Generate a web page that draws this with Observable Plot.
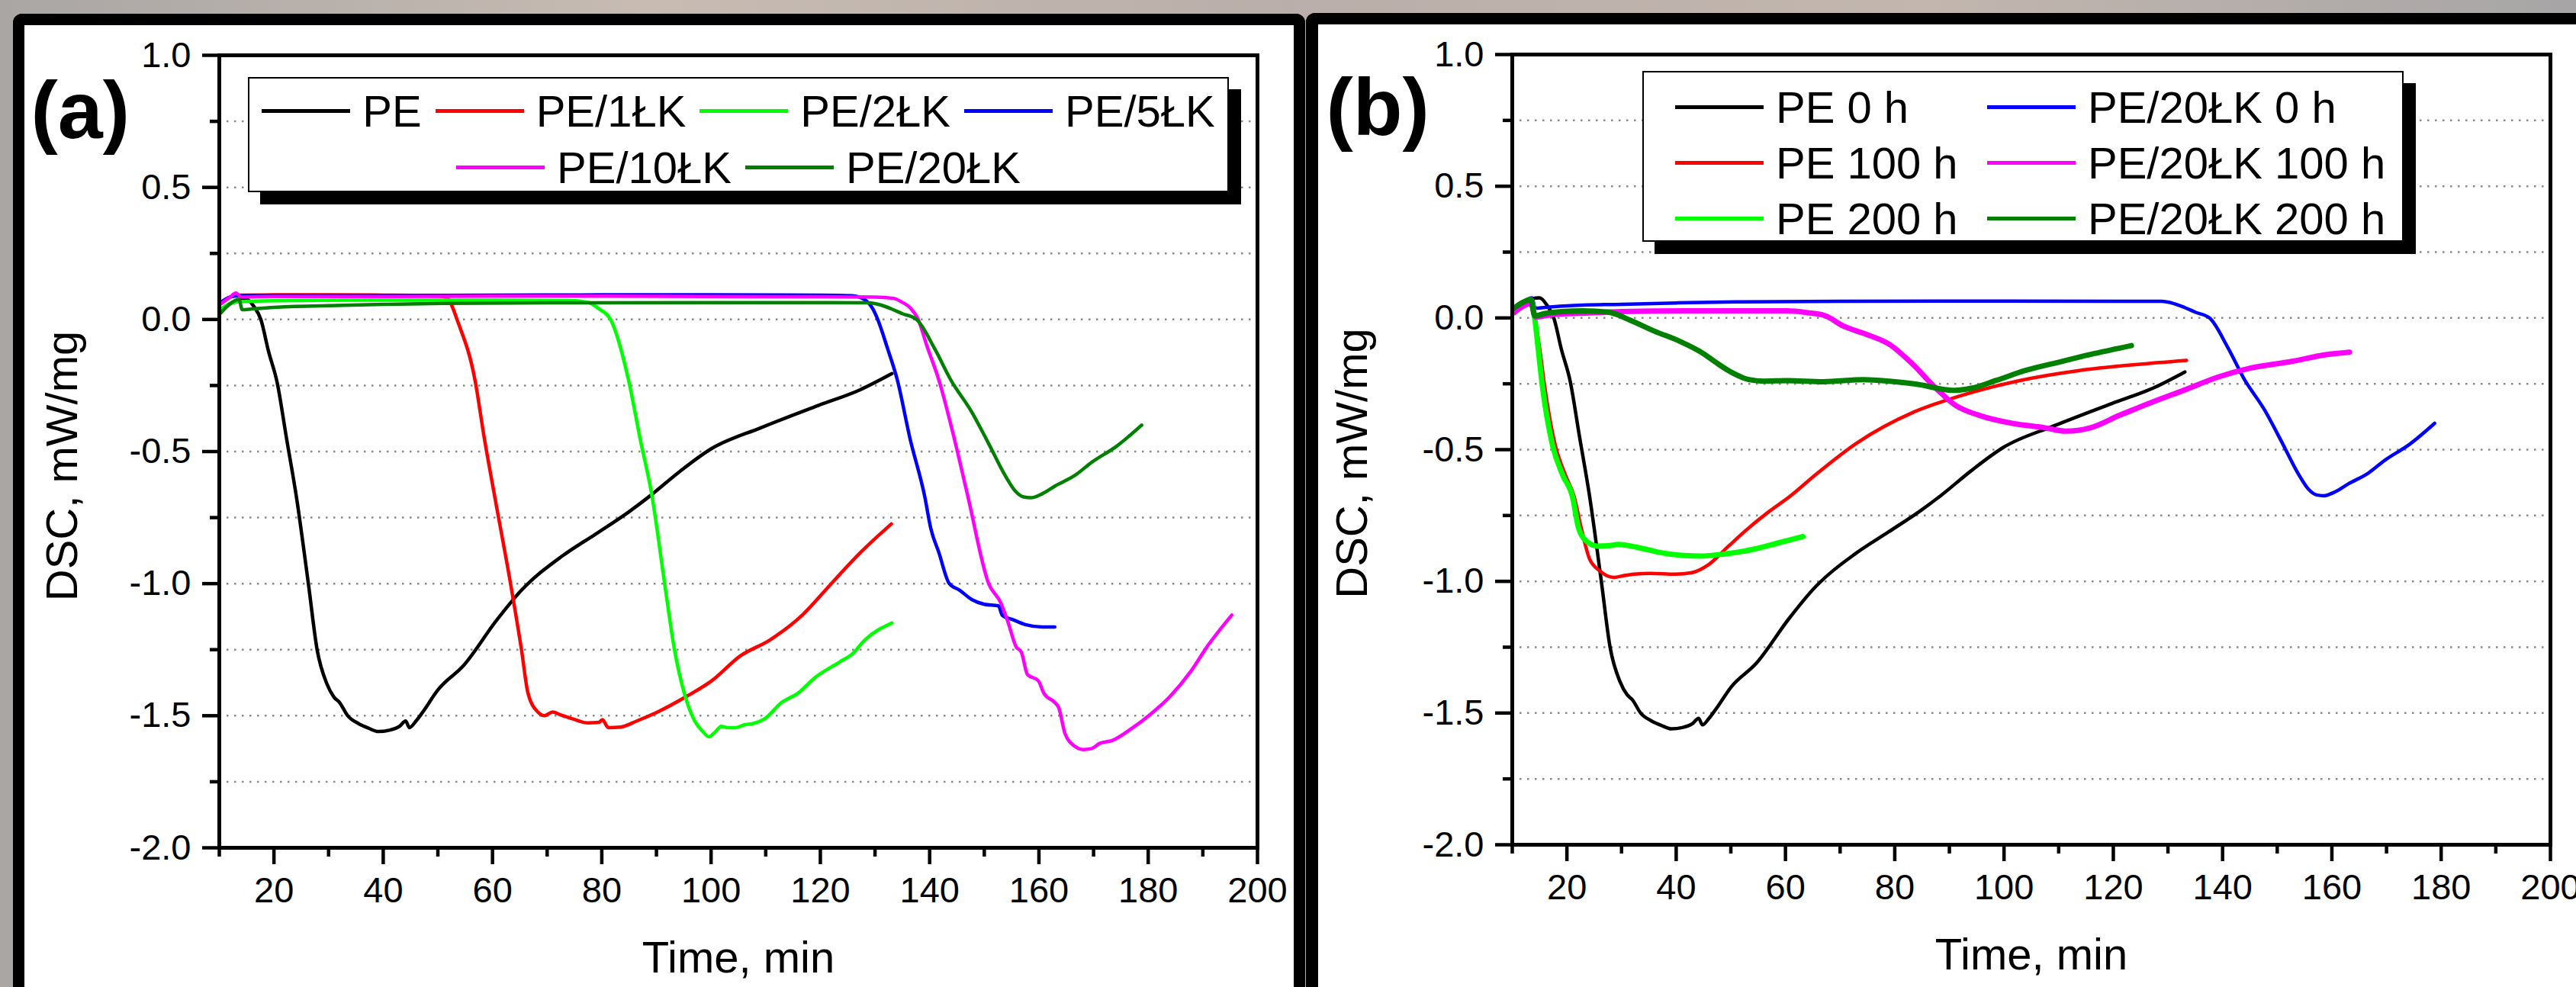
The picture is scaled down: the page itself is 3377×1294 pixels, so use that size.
<!DOCTYPE html>
<html><head><meta charset="utf-8">
<script src="https://cdn.jsdelivr.net/npm/d3@7"></script>
<script src="https://cdn.jsdelivr.net/npm/@observablehq/plot@0.6"></script>
<style>
body{margin:0;width:3377px;height:1294px;overflow:hidden;position:relative;
 background:linear-gradient(90deg,#a9a6a4 0%,#c7bbb2 25%,#b9aea9 50%,#c2b6ae 75%,#a7a5a6 100%);}
.panel{position:absolute;background:#fff;}
#pa{left:17px;top:18px;width:1664px;height:1261px;border:15px solid #000;border-bottom:none;border-radius:12px 12px 0 0;}
#pb{left:1712px;top:17px;width:1665px;height:1262px;border-top:15px solid #000;border-left:16px solid #000;border-top-left-radius:12px;}
.panel svg{position:absolute;left:0;top:0;}
.legend{position:absolute;border:2px solid #000;box-shadow:16px 16px 0 #000;background:#fff;box-sizing:border-box;
 font:58px "Liberation Sans",Arial,sans-serif;color:#000;}
.legend .row{display:flex;justify-content:center;align-items:center;height:74px;}
.legend .item{display:flex;align-items:center;margin:0 9px;white-space:nowrap;}
.legend .sw{width:116px;height:5px;margin-right:16px;flex:none;}
.legend.grid{display:grid;grid-template-columns:409px auto;grid-auto-rows:73px;padding:8.5px 0 0 41px;}
.legend.grid .item{margin:0;}
</style></head>
<body>
<div id="pa" class="panel"></div>
<div id="pb" class="panel"></div>
<script>
// ---------- axis ticks ----------
const yMajor = [-2, -1.5, -1, -0.5, 0, 0.5, 1];
const yMinor = [-1.75, -1.25, -0.75, -0.25, 0.25, 0.75];
const yGrid = [-1.75, -1.5, -1.25, -1, -0.75, -0.5, -0.25, 0, 0.25, 0.5, 0.75];
const xMajor = [20, 40, 60, 80, 100, 120, 140, 160, 180, 200];
const xMinor = [10, 30, 50, 70, 90, 110, 130, 150, 170, 190];

// ---------- panel (a) series ----------
const timePE = [10.5, 12, 13.5, 15, 16.3, 17.6, 19, 20.6, 22.3, 24.1, 26.3, 27.9, 29.7, 31, 32, 33.5, 35.5, 37.3, 39.1, 41.1, 43, 44.1, 44.8, 46, 47.1, 50.1, 54.7, 60.7, 65.3, 72.8, 78.9, 84.9, 88.7, 94, 100, 109.1, 119.7, 127.3, 133.1];
const dscPE  = [0.04, 0.06, 0.072, 0.076, 0.05, 0.0, -0.12, -0.24, -0.45, -0.67, -1.0, -1.25, -1.38, -1.43, -1.45, -1.5, -1.53, -1.547, -1.56, -1.555, -1.54, -1.52, -1.545, -1.52, -1.49, -1.4, -1.31, -1.14, -1.025, -0.895, -0.812, -0.729, -0.67, -0.58, -0.49, -0.41, -0.325, -0.266, -0.205];

const time1LK = [10.3, 12, 13.6, 20, 30, 40, 48, 50.5, 51.8, 52.6, 53.5, 56.8, 58.5, 60.4, 63.3, 65.3, 66.5, 68.3, 69.5, 71, 72.5, 74.4, 77.4, 79.5, 80.1, 81.2, 83.4, 86.4, 90.2, 95.5, 100.1, 105.4, 110.7, 116.7, 122, 127.3, 133];
const dsc1LK  = [0.065, 0.085, 0.092, 0.093, 0.093, 0.092, 0.09, 0.088, 0.08, 0.05, 0.0, -0.23, -0.45, -0.67, -1.0, -1.25, -1.415, -1.486, -1.5, -1.486, -1.497, -1.51, -1.527, -1.525, -1.515, -1.545, -1.543, -1.52, -1.486, -1.427, -1.368, -1.273, -1.214, -1.119, -1.0, -0.883, -0.774];

const time2LK = [10.3, 12, 14, 20, 40, 60, 74, 77.4, 79.5, 81.6, 84.9, 87, 89.2, 91.5, 93.3, 95.1, 97, 98.5, 99.6, 100.8, 101.9, 103, 104.6, 106, 107.6, 109.9, 112.9, 115.9, 119, 123.5, 125.8, 128.1, 133.1];
const dsc2LK  = [0.04, 0.06, 0.068, 0.071, 0.073, 0.073, 0.072, 0.065, 0.04, 0.0, -0.23, -0.45, -0.67, -1.0, -1.25, -1.415, -1.52, -1.56, -1.58, -1.56, -1.54, -1.545, -1.545, -1.535, -1.53, -1.51, -1.45, -1.415, -1.356, -1.297, -1.267, -1.214, -1.149];

const time5LK = [10.3, 12, 13.6, 20, 40, 60, 80, 100, 120, 125.8, 128.1, 129.6, 130.5, 132.3, 134.1, 136.4, 139.1, 140.2, 141.7, 143.6, 145.5, 147.7, 150, 152.6, 153.3, 155.3, 157.5, 160.6, 162.9];
const dsc5LK  = [0.065, 0.085, 0.09, 0.091, 0.091, 0.092, 0.093, 0.093, 0.092, 0.09, 0.075, 0.04, 0.0, -0.11, -0.23, -0.45, -0.67, -0.79, -0.883, -1.0, -1.025, -1.06, -1.078, -1.084, -1.12, -1.137, -1.155, -1.164, -1.164];

const time10LK = [10.3, 12, 13, 14, 20, 40, 60, 80, 100, 120, 130, 133.4, 135, 136.4, 137.9, 139.5, 141.7, 144.5, 147, 150.8, 153, 154.3, 155.8, 156.8, 157.9, 159.9, 160.9, 162.9, 163.6, 164.8, 166.6, 168.1, 169.5, 171.2, 173.4, 177.2, 180.2, 184, 187.8, 190.8, 195.3];
const dsc10LK  = [0.06, 0.085, 0.1, 0.085, 0.087, 0.087, 0.088, 0.088, 0.087, 0.086, 0.085, 0.08, 0.065, 0.045, 0.0, -0.1, -0.23, -0.45, -0.67, -1.0, -1.072, -1.143, -1.238, -1.26, -1.344, -1.368, -1.415, -1.45, -1.468, -1.569, -1.616, -1.628, -1.625, -1.604, -1.594, -1.545, -1.498, -1.427, -1.332, -1.238, -1.119];

const time20LK = [10.2, 12, 13.6, 14.2, 16, 20, 30, 40, 51, 70, 100, 128.8, 131, 133, 135, 137.6, 140.9, 143.9, 147.7, 150.8, 153.8, 155.7, 157.2, 158.5, 160.6, 163, 166.6, 169.7, 174.2, 178.8];
const dsc20LK  = [0.023, 0.06, 0.076, 0.037, 0.04, 0.046, 0.052, 0.057, 0.061, 0.063, 0.064, 0.063, 0.055, 0.04, 0.022, 0.0, -0.11, -0.23, -0.35, -0.47, -0.59, -0.65, -0.672, -0.675, -0.66, -0.63, -0.59, -0.54, -0.48, -0.4];

// ---------- panel (b) series (0 h curves reuse PE and PE/20ŁK) ----------
const timePE100 = [10.3, 12, 13.4, 14.1, 15.1, 15.8, 17.8, 19.8, 21.3, 22.6, 24.1, 26, 28.6, 30.5, 32.3, 35.3, 39.8, 42.9, 45.9, 49.6, 53.4, 57, 60.9, 65.4, 72.9, 83.5, 91.8, 103, 113.6, 124.1, 133.4];
const dscPE100  = [0.03, 0.055, 0.07, 0.0, -0.127, -0.24, -0.477, -0.6, -0.676, -0.795, -0.913, -0.96, -0.985, -0.978, -0.973, -0.97, -0.973, -0.967, -0.937, -0.866, -0.795, -0.735, -0.676, -0.597, -0.477, -0.357, -0.297, -0.237, -0.2, -0.177, -0.161];

const timePE200 = [10.3, 12, 13.4, 14.1, 14.8, 15.4, 17.3, 19.3, 21, 22.1, 23.3, 25.6, 27.5, 29.4, 33.1, 36.9, 41.4, 44.4, 48.9, 54.2, 58.7, 63.2];
const dscPE200  = [0.03, 0.055, 0.07, 0.0, -0.127, -0.24, -0.477, -0.6, -0.676, -0.795, -0.842, -0.866, -0.865, -0.86, -0.872, -0.89, -0.902, -0.904, -0.896, -0.878, -0.854, -0.83];

const time20LK100 = [10.3, 12, 13.4, 14.3, 17, 23, 30, 41.6, 50, 60.3, 64, 67.3, 70.5, 74.5, 79, 83.5, 87.2, 91, 95.5, 101.5, 107.5, 111.3, 115.8, 121.1, 127.1, 133.1, 139.1, 145.2, 152.7, 158.7, 163.2];
const dsc20LK100  = [0.02, 0.045, 0.055, 0.003, 0.012, 0.018, 0.024, 0.027, 0.027, 0.027, 0.02, 0.008, -0.03, -0.06, -0.1, -0.18, -0.26, -0.33, -0.37, -0.4, -0.417, -0.43, -0.417, -0.37, -0.32, -0.273, -0.225, -0.19, -0.165, -0.14, -0.13];

const time20LK200 = [10.3, 12, 13.4, 14.1, 16, 19, 23, 27.6, 31.4, 36, 40.7, 44.4, 47.7, 50, 53.3, 56, 60.3, 66.9, 74.3, 79, 85, 88, 91, 94, 98.6, 103.8, 110.6, 116.6, 123.3];
const dsc20LK200  = [0.037, 0.06, 0.07, 0.008, 0.017, 0.024, 0.027, 0.022, -0.007, -0.05, -0.089, -0.128, -0.175, -0.205, -0.234, -0.24, -0.238, -0.242, -0.234, -0.24, -0.255, -0.268, -0.275, -0.267, -0.237, -0.2, -0.165, -0.135, -0.105];

// ---------- names / colours ----------
const namesA  = ["PE", "PE/1ŁK", "PE/2ŁK", "PE/5ŁK", "PE/10ŁK", "PE/20ŁK"];
const colorsA = ["#000000", "#ff0000", "#00ff00", "#0000ff", "#ff00ff", "#008000"];
const timesA  = [timePE, time1LK, time2LK, time5LK, time10LK, time20LK];
const dscA    = [dscPE, dsc1LK, dsc2LK, dsc5LK, dsc10LK, dsc20LK];

const namesB  = ["PE 0 h", "PE 100 h", "PE 200 h", "PE/20ŁK 0 h", "PE/20ŁK 100 h", "PE/20ŁK 200 h"];
const colorsB = ["#000000", "#ff0000", "#00ff00", "#0000ff", "#ff00ff", "#008000"];
const timesB  = [timePE, timePE100, timePE200, time20LK, time20LK100, time20LK200];
const dscB    = [dscPE, dscPE100, dscPE200, dsc20LK, dsc20LK100, dsc20LK200];
const wavyB   = [false, false, true, false, true, true];
const drawOrderB = [0, 1, 3, 2, 4, 5];

const FONT = '"Liberation Sans", Arial, Helvetica, sans-serif';
const fmtY = d => d.toFixed(1);

function rowsOf(name, ts, vs) { return ts.map((t, i) => ({s: name, t, v: vs[i]})); }

function makePlot({width, height, ml, mr, mt, mb, names, colors, times, dsc, widths, order, label, labelDx, labelDy, yTitleDx, yTitleDy}) {
  const lineMarks = order.map(i => Plot.line(rowsOf(names[i], times[i], dsc[i]), {
    x: "t", y: "v", stroke: colors[i], strokeWidth: widths[i], curve: "monotone-x", strokeLinejoin: "round", strokeLinecap: "round"
  }));
  return Plot.plot({
    width, height, marginLeft: ml, marginRight: mr, marginTop: mt, marginBottom: mb,
    style: {fontFamily: FONT, background: "#fff", color: "#000", overflow: "visible"},
    x: {domain: [10, 200], label: null},
    y: {domain: [-2, 1], label: null},
    marks: [
      Plot.gridY(yGrid, {stroke: "#8a8a8a", strokeOpacity: 1, strokeWidth: 2.5, strokeDasharray: "2.5 7.5"}),
      ...lineMarks,
      Plot.frame({stroke: "#000", strokeWidth: 5}),
      Plot.axisY(yMajor, {tickSize: 22, tickPadding: 15, strokeWidth: 4.5, fontSize: 47, tickFormat: fmtY, label: null}),
      Plot.axisY(yMinor, {tickSize: 12, strokeWidth: 4.5, tickFormat: () => "", label: null}),
      Plot.axisX(xMajor, {tickSize: 22, tickPadding: 16, strokeWidth: 4.5, fontSize: 47, tickFormat: d => String(d), label: null}),
      Plot.axisX(xMinor, {tickSize: 12, strokeWidth: 4.5, tickFormat: () => "", label: null}),
      Plot.text(["Time, min"], {text: d => d, frameAnchor: "bottom", textAnchor: "middle", lineAnchor: "bottom", dy: 163, fontSize: 58, fill: "#000"}),
      Plot.text(["DSC, mW/mg"], {text: d => d, frameAnchor: "left", rotate: -90, textAnchor: "middle", lineAnchor: "middle", dx: yTitleDx, dy: yTitleDy, fontSize: 58, fill: "#000"}),
      Plot.text([label], {text: d => d, frameAnchor: "top-left", textAnchor: "start", lineAnchor: "bottom", dx: labelDx, dy: labelDy, fontSize: 106, fontWeight: "bold", fill: "#000"})
    ]
  });
}

function swatchItem(name, color) {
  const it = document.createElement("div"); it.className = "item";
  const sw = document.createElement("div"); sw.className = "sw"; sw.style.background = color;
  const tx = document.createElement("span"); tx.textContent = name;
  it.append(sw, tx); return it;
}

// panel (a)
const pa = document.getElementById("pa");
pa.append(makePlot({width: 1664, height: 1261, ml: 255, mr: 48, mt: 39, mb: 183,
  names: namesA, colors: colorsA, times: timesA, dsc: dscA, widths: [4.5, 4.5, 4.5, 4.5, 4.5, 4.5], order: [0, 1, 2, 3, 4, 5],
  label: "(a)", labelDx: -247, labelDy: 108, yTitleDx: -205, yTitleDy: 19}));
const legA = document.createElement("div"); legA.className = "legend";
Object.assign(legA.style, {left: "293px", top: "68px", width: "1286px", height: "151px", paddingTop: "5px"});
[[0, 1, 2, 3], [4, 5]].forEach(r => {
  const row = document.createElement("div"); row.className = "row";
  r.forEach(i => row.append(swatchItem(namesA[i], colorsA[i])));
  legA.append(row);
});
pa.append(legA);

// panel (b)
const pb = document.getElementById("pb");
pb.append(makePlot({width: 1649, height: 1262, ml: 254, mr: 34, mt: 39, mb: 187,
  names: namesB, colors: colorsB, times: timesB, dsc: dscB, widths: wavyB.map(w => w ? 7 : 4.5), order: drawOrderB,
  label: "(b)", labelDx: -244, labelDy: 105, yTitleDx: -209, yTitleDy: 18}));
const legB = document.createElement("div"); legB.className = "legend grid";
Object.assign(legB.style, {left: "425px", top: "61px", width: "998px", height: "224px"});
[0, 3, 1, 4, 2, 5].forEach(i => legB.append(swatchItem(namesB[i], colorsB[i])));
pb.append(legB);
</script>
</body></html>
